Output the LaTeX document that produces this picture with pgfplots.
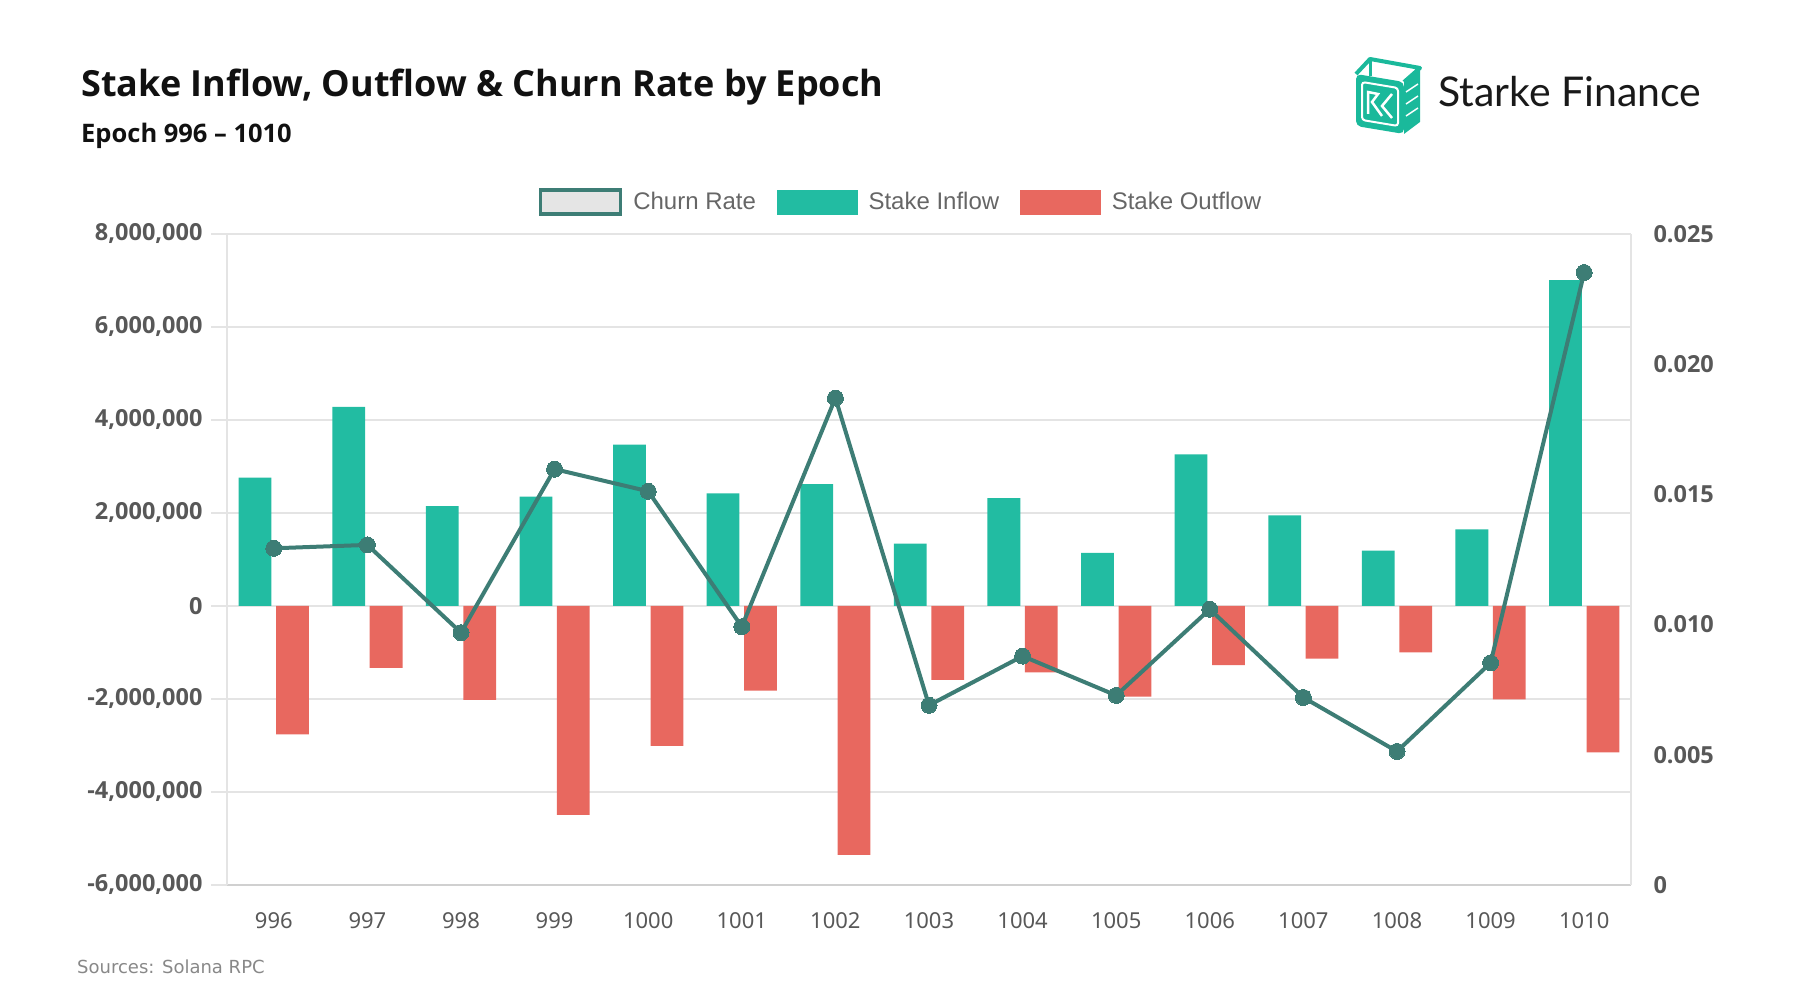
\documentclass[border=0pt]{standalone}
\usepackage{fontspec}
\usepackage{pgfplots}
\pgfplotsset{compat=1.18}
\setmainfont{Noto Sans}
\newfontfamily\obold{Open Sans}
\newfontfamily\legfont{Liberation Sans}
\newfontfamily\logofont{Lato}
\newfontfamily\srcfont{DejaVu Sans}
\definecolor{inflowc}{RGB}{34,188,162}
\definecolor{outflowc}{RGB}{232,104,95}
\definecolor{churnc}{RGB}{61,125,117}
\definecolor{gridc}{RGB}{228,228,228}
\definecolor{basec}{RGB}{208,208,208}
\definecolor{tickc}{RGB}{88,88,88}
\definecolor{legc}{RGB}{102,102,102}
\definecolor{srcc}{RGB}{136,136,136}
\definecolor{titlec}{RGB}{17,17,17}
\definecolor{logoc}{RGB}{26,185,155}
\definecolor{legfill}{RGB}{229,229,229}

\pgfplotstableread{
x inflow outflow churn
0 2760000 -2760000 0.01293
1 4280000 -1330000 0.01306
2 2150000 -2020000 0.00969
3 2350000 -4490000 0.01597
4 3470000 -3010000 0.01512
5 2420000 -1820000 0.00992
6 2620000 -5350000 0.01870
7 1340000 -1590000 0.00690
8 2320000 -1430000 0.00879
9 1140000 -1950000 0.00728
10 3260000 -1270000 0.01059
11 1950000 -1130000 0.00720
12 1190000 -1000000 0.00513
13 1650000 -2010000 0.00853
14 7010000 -3150000 0.02352
}\datatable

\begin{document}
\begin{tikzpicture}
\path[use as bounding box] (0,0) rectangle (1800pt,1000pt);

% titles
\node[anchor=base west, inner sep=0, text=titlec, font=\obold\bfseries\fontsize{36}{40}\selectfont] at (81pt,903pt) {Stake Inflow, Outflow \& Churn Rate by Epoch};
\node[anchor=base west, inner sep=0, text=titlec, font=\obold\bfseries\fontsize{25.5}{30}\selectfont] at (81pt,857pt) {Epoch 996 – 1010};

% logo
\begin{scope}
\fill[logoc, rounded corners=5pt] (1356pt,874pt) -- (1404pt,866pt) -- (1404pt,918pt) -- (1356pt,926pt) -- cycle;
\draw[white, line width=2pt, rounded corners=3pt] (1362pt,880pt) -- (1398pt,874pt) -- (1398pt,912pt) -- (1362pt,918pt) -- cycle;
\draw[white, line width=2.5pt] (1368pt,886pt) -- (1368pt,908pt) -- (1378pt,906pt) -- (1372pt,898pt) -- (1382pt,884pt);
\draw[white, line width=2.5pt] (1392pt,906pt) -- (1382pt,894pt) -- (1392pt,882pt);
\fill[logoc] (1404pt,866pt) -- (1420pt,878pt) -- (1420pt,932pt) -- (1404pt,918pt) -- cycle;
\draw[white, line width=1.5pt] (1406pt,884pt) -- (1418pt,892pt);
\draw[white, line width=1.5pt] (1406pt,896pt) -- (1418pt,904pt);
\draw[white, line width=1.5pt] (1406pt,908pt) -- (1418pt,916pt);
\draw[logoc, line width=4pt, line join=round] (1356pt,926pt) -- (1370pt,941pt) -- (1420pt,932pt) -- (1404pt,918pt);
\draw[logoc, line width=3pt] (1370pt,941pt) -- (1370pt,924pt);
\end{scope}
\node[anchor=base west, inner sep=0, text=black!90, font=\logofont\fontsize{41}{44}\selectfont] at (1438pt,893pt) {Starke Finance};

% sources
\node[anchor=base west, inner sep=0, text=srcc, font=\srcfont\fontsize{18}{20}\selectfont] at (77pt,26pt) {Sources: Solana RPC};

\begin{axis}[
  at={(227pt,115pt)}, anchor=south west,
  scale only axis, width=1404pt, height=651pt,
  xmin=-0.5, xmax=14.5,
  ymin=-6000000, ymax=8000000,
  scaled y ticks=false,
  axis x line=bottom, axis y line=left,
  axis line style={-},
  x axis line style={draw=basec, line width=2pt},
  y axis line style={draw=gridc, line width=1.5pt},
  xtick={0,...,14},
  xticklabels={996,997,998,999,1000,1001,1002,1003,1004,1005,1006,1007,1008,1009,1010},
  xtick style={draw=none},
  ytick={-6000000,-4000000,-2000000,0,2000000,4000000,6000000,8000000},
  yticklabels={{-6,000,000},{-4,000,000},{-2,000,000},0,{2,000,000},{4,000,000},{6,000,000},{8,000,000}},
  ytick style={draw=gridc, line width=1.5pt},
  tick align=outside, major tick length=16pt,
  ymajorgrids, major grid style={draw=gridc, line width=1.5pt},
  yticklabel style={font=\obold\bfseries\fontsize{23.5}{26}\selectfont, text=tickc, xshift=-5pt},
  xticklabel style={font=\fontsize{22}{26}\selectfont, text=tickc, yshift=-8pt},
  legend style={at={(0.5,1)}, anchor=south, xshift=-28pt, yshift=16pt, draw=none, fill=none,
    legend columns=3, font=\legfont\fontsize{24}{28}\selectfont, text=legc,
    /tikz/every even column/.append style={column sep=19pt},
    /tikz/every odd column/.append style={column sep=9pt}},
  legend image code/.code={\draw[#1] (0pt,-12pt) rectangle (80pt,12pt);},
]
\addlegendimage{draw=churnc, fill=legfill, line width=3.5pt}
\addlegendentry{Churn Rate}
\addlegendimage{draw=inflowc, fill=inflowc, line width=0.5pt}
\addlegendentry{Stake Inflow}
\addlegendimage{draw=outflowc, fill=outflowc, line width=0.5pt}
\addlegendentry{Stake Outflow}
\addplot[ybar, bar width=0.35, bar shift=-0.2, fill=inflowc, draw=none, forget plot] table[x=x, y=inflow] {\datatable};
\addplot[ybar, bar width=0.35, bar shift=0.2, fill=outflowc, draw=none, forget plot] table[x=x, y=outflow] {\datatable};
\end{axis}

\begin{axis}[
  at={(227pt,115pt)}, anchor=south west,
  scale only axis, width=1404pt, height=651pt,
  xmin=-0.5, xmax=14.5,
  ymin=0, ymax=0.025,
  scaled y ticks=false,
  axis x line=none, axis y line*=right,
  axis line style={-},
  y axis line style={draw=gridc, line width=1.5pt},
  ytick={0,0.005,0.01,0.015,0.02,0.025},
  yticklabels={0,0.005,0.010,0.015,0.020,0.025},
  ytick style={draw=none},
  yticklabel style={font=\obold\bfseries\fontsize{23.5}{26}\selectfont, text=tickc, xshift=19pt},
]
\addplot[draw=churnc, line width=4pt, mark=*, mark size=8pt, mark options={fill=churnc, draw=churnc, line width=0pt}] table[x=x, y=churn] {\datatable};
\end{axis}
\end{tikzpicture}
\end{document}
